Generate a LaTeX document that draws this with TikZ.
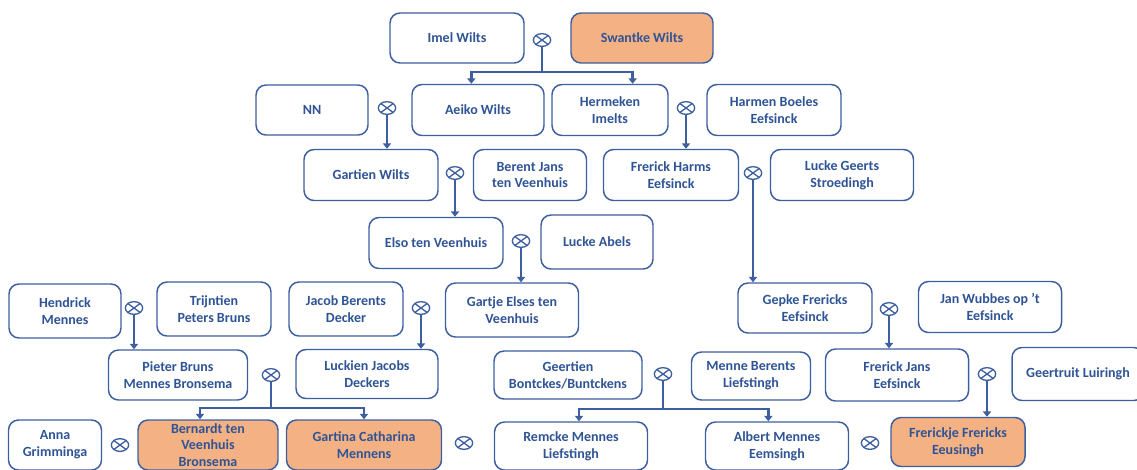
\documentclass[tikz,border=0pt]{standalone}
\usepackage{fontspec}
\setmainfont{Carlito}
\usepackage{xcolor}
\usetikzlibrary{arrows.meta,shapes.geometric}

\definecolor{boxblue}{RGB}{61,95,160}
\definecolor{textblue}{RGB}{47,84,150}
\definecolor{ancestor}{RGB}{244,177,131}

\tikzset{
  person/.style 2 args={draw=boxblue, line width=1.1pt, rounded corners=7.5pt, fill=white,
    text=textblue, font=\fontsize{10.5}{12.6}\selectfont\bfseries, align=center,
    inner sep=1pt, minimum width=#1*0.75pt, minimum height=#2*0.75pt},
  proband/.style={fill=ancestor},
  wed/.style={draw=boxblue, line width=1pt, ellipse, minimum width=13pt,
    minimum height=9.5pt, inner sep=0pt,
    path picture={\draw[boxblue, line width=1pt]
      (path picture bounding box.north west) -- (path picture bounding box.south east)
      (path picture bounding box.south west) -- (path picture bounding box.north east);}},
  stem/.style={draw=boxblue, line width=1.8pt},
  descent/.style={stem, -{Triangle[width=6pt,length=4pt]}},
}

\begin{document}
\begin{tikzpicture}[x=0.75pt,y=0.75pt,yscale=-1,xscale=1]
\useasboundingbox (0,0) rectangle (1137,469);
\clip (0,0) rectangle (1137,469);

%Row 1
\node[person={134}{50}] (imel) at (457,38) {Imel Wilts};
\node[person={142}{50}, proband] (swantke) at (642,38) {Swantke Wilts};
\node[wed] (m1) at (542,40) {};

%Row 2
\node[person={112}{50}] (nn) at (312,110) {NN};
\node[wed] (m2) at (387,108) {};
\node[person={132}{51}] (aeiko) at (478,110) {Aeiko Wilts};
\node[person={116}{51}] (hermeken) at (610,110) {Hermeken\\Imelts};
\node[wed] (m3) at (686,108) {};
\node[person={134}{51}] (harmen) at (774,110) {Harmen Boeles\\Eefsinck};

%Row 3
\node[person={134}{51}] (gartien) at (371,175) {Gartien Wilts};
\node[wed] (m4) at (455,173) {};
\node[person={113}{51}] (berent) at (530,175) {Berent Jans\\ten Veenhuis};
\node[person={135}{51}] (frerickH) at (671,175) {Frerick Harms\\Eefsinck};
\node[wed] (m5) at (753,173) {};
\node[person={143}{51}] (luckeG) at (842,175) {Lucke Geerts\\Stroedingh};

%Row 4
\node[person={134}{51}] (elso) at (436,243) {Elso ten Veenhuis};
\node[wed] (m6) at (521,241) {};
\node[person={112}{54}] (luckeA) at (597,242) {Lucke Abels};

%Row 5
\node[person={112}{54}] (hendrick) at (65,311) {Hendrick\\Mennes};
\node[wed] (m7) at (134,308) {};
\node[person={114}{54}] (trijntien) at (214,309) {Trijntien\\Peters Bruns};
\node[person={114}{54}] (jacob) at (346,309) {Jacob Berents\\Decker};
\node[wed] (m8) at (421,308) {};
\node[person={133}{54}] (gartje) at (512,310) {Gartje Elses ten\\Veenhuis};
\node[person={134}{50}] (gepke) at (805,308) {Gepke Frericks\\Eefsinck};
\node[wed] (m9) at (889,309) {};
\node[person={143}{51}] (jan) at (990,307) {Jan Wubbes op ’t\\Eefsinck};

%Row 6
\node[person={139}{50}] (pieter) at (178,375) {Pieter Bruns\\Mennes Bronsema};
\node[wed] (m10) at (271,375) {};
\node[person={142}{49}] (luckien) at (367,374) {Luckien Jacobs\\Deckers};
\node[person={148}{48}] (geertien) at (568,375) {Geertien\\Bontckes/Buntckens};
\node[wed] (m11) at (663,374) {};
\node[person={119}{48}] (menne) at (751,376) {Menne Berents\\Liefstingh};
\node[person={143}{52}] (frerickJ) at (897,375) {Frerick Jans\\Eefsinck};
\node[wed] (m12) at (987,374) {};
\node[person={132}{53}] (geertruit) at (1078,374) {Geertruit Luiringh};

%Row 7
\node[person={93}{50}] (anna) at (55,445) {Anna\\Grimminga};
\node[wed] (m13) at (120,445) {};
\node[person={140}{50}, proband] (bernardt) at (208,445) {Bernardt ten\\Veenhuis\\Bronsema};
\node[person={155}{50}, proband] (gartina) at (364,445) {Gartina Catharina\\Mennens};
\node[wed] (m14) at (464,443) {};
\node[person={153}{48}] (remcke) at (571,446) {Remcke Mennes\\Liefstingh};
\node[person={143}{48}] (albert) at (777,446) {Albert Mennes\\Eemsingh};
\node[wed] (m15) at (870,443) {};
\node[person={134}{49}, proband] (frerickje) at (958,442) {Frerickje Frericks\\Eeusingh};

%Descent with two children
\coordinate (j1) at (542,72);
\draw[stem] (m1) -- (j1);
\draw[descent] (j1) -| ([xshift=-5pt]aeiko.north);
\draw[descent] (j1) -| ([xshift=17pt]hermeken.north);

\coordinate (j2) at (271,408);
\draw[stem] (m10) -- (j2);
\draw[descent] (j2) -| ([xshift=-6pt]bernardt.north);
\draw[descent] (j2) -| (gartina.north);

\coordinate (j3) at (663,409);
\draw[stem] (m11) -- (j3);
\draw[descent] (j3) -| ([xshift=6pt]remcke.north);
\draw[descent] (j3) -| ([xshift=-6.5pt]albert.north);

%Descent with one child
\draw[descent] (m2) -- (m2 |- gartien.north);
\draw[descent] (m3) -- (m3 |- frerickH.north);
\draw[descent] (m4) -- (m4 |- elso.north);
\draw[descent] (m5) -- (m5 |- gepke.north);
\draw[descent] (m6) -- (m6 |- gartje.north);
\draw[descent] (m7) -- (m7 |- pieter.north);
\draw[descent] (m8) -- (m8 |- luckien.north);
\draw[descent] (m9) -- (m9 |- frerickJ.north);
\draw[descent] (m12) -- (m12 |- frerickje.north);

\end{tikzpicture}
\end{document}
